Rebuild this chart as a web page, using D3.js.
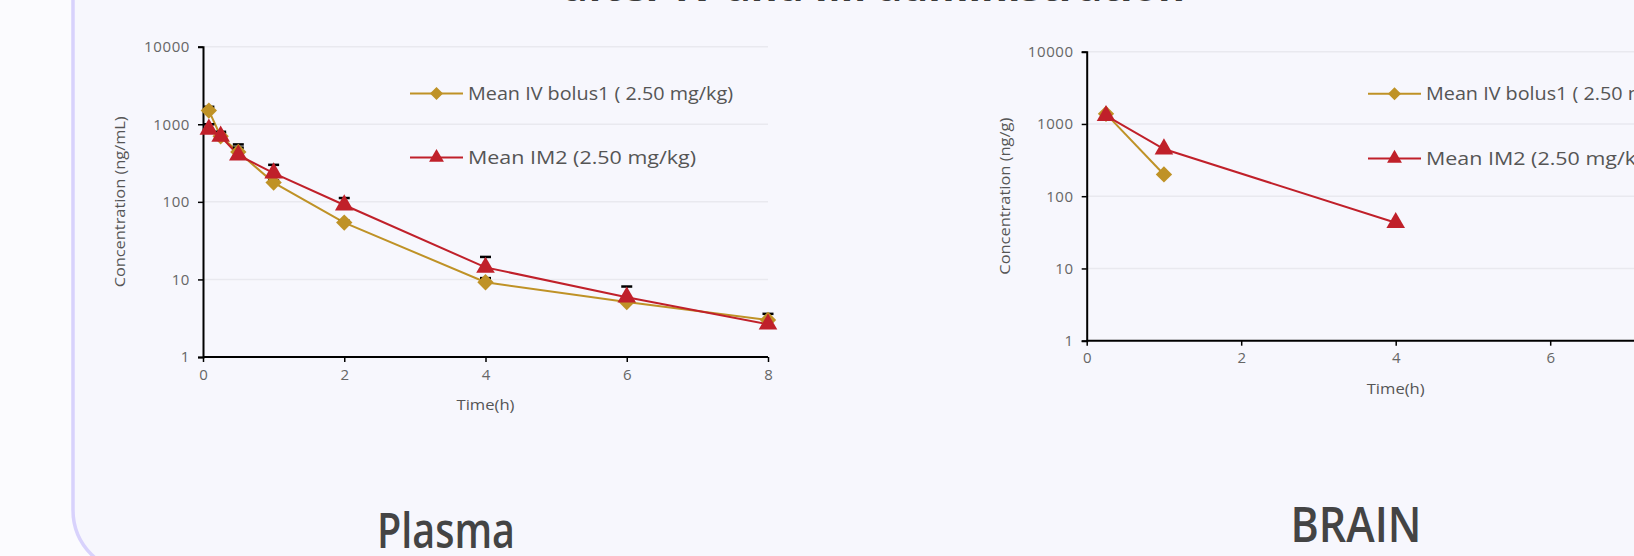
<!DOCTYPE html>
<html>
<head>
<meta charset="utf-8">
<script src="https://cdn.jsdelivr.net/npm/d3@7"></script>
<style>
  html, body { margin: 0; padding: 0; background: #fbfbfe; overflow: hidden; }
  svg { display: block; }
</style>
</head>
<body>
<svg id="chart" width="1634" height="556"></svg>
<script>
// plasma data (h, ng/mL)
var plasmaIvTime = [0.083, 0.25, 0.5, 1, 2, 4, 6, 8];
var plasmaIvMean = [1500, 700, 440, 177, 54, 9.2, 5.1, 3.0];
var plasmaIvErr = [1680, 760, 500, 190, 57, 10.4, 5.4, 3.6];
var plasmaImTime = [0.083, 0.25, 0.5, 1, 2, 4, 6, 8];
var plasmaImMean = [860, 700, 400, 235, 91, 14.3, 5.9, 2.65];
var plasmaImErr = [1000, 800, 550, 300, 112, 19.5, 8.1, 2.9];

// brain data (h, ng/g)
var brainIvTime = [0.25, 1];
var brainIvMean = [1380, 200];
var brainImTime = [0.25, 1, 4];
var brainImMean = [1300, 450, 43];

var xTicks = [0, 2, 4, 6, 8];
var yTicks = [1, 10, 100, 1000, 10000];
var legendLabels = ['Mean IV bolus1 ( 2.50 mg/kg)', 'Mean IM2 (2.50 mg/kg)'];
var legendWidths = [265, 228];

var gold = '#bf9226';
var red = '#c0202a';

var svg = d3.select('#chart');

// panel
svg.append('rect')
    .attr('x', 73)
    .attr('y', -80)
    .attr('width', 1700)
    .attr('height', 653)
    .attr('rx', 63)
    .attr('fill', '#f7f7fd')
    .attr('stroke', '#d8d2fc')
    .attr('stroke-width', 3.5);

// title, mostly cut off at the top
svg.append('text')
    .attr('x', 874)
    .attr('y', 1)
    .attr('text-anchor', 'middle')
    .attr('textLength', 622)
    .attr('lengthAdjust', 'spacingAndGlyphs')
    .style('font-family', 'Open Sans, sans-serif')
    .style('font-weight', 700)
    .style('font-size', '36px')
    .attr('fill', '#3a3a3a')
    .text('after IV and IM administration');

function drawChart(opt) {
    var x = d3.scaleLinear().domain([0, 8]).range(opt.xRange);
    var y = d3.scaleLog().domain([1, 10000]).range(opt.yRange);
    var g = svg.append('g');

    // grid
    g.selectAll('.grid')
        .data(yTicks.slice(1))
        .enter()
        .append('line')
        .attr('x1', opt.xRange[0])
        .attr('x2', opt.gridEnd)
        .attr('y1', function (d) { return y(d); })
        .attr('y2', function (d) { return y(d); })
        .attr('stroke', '#e9e9ef')
        .attr('stroke-width', 1.5);

    var yAxis = g.append('g')
        .attr('transform', `translate(${opt.xRange[0]},0)`)
        .call(d3.axisLeft(y).tickValues(yTicks).tickFormat(d3.format('d')).tickSizeOuter(0).tickSize(5).tickPadding(8));
    var xAxis = g.append('g')
        .attr('transform', `translate(0,${opt.yRange[0]})`)
        .call(d3.axisBottom(x).tickValues(xTicks).tickSizeOuter(0).tickSize(5).tickPadding(7));

    [xAxis, yAxis].forEach(function (a) {
        a.select('.domain').attr('stroke', '#000').attr('stroke-width', 2);
        a.selectAll('.tick line').attr('stroke', '#000').attr('stroke-width', 1.5);
        a.selectAll('.tick text')
            .attr('fill', '#666')
            .style('font-family', 'Open Sans, sans-serif')
            .style('font-size', '15px');
    });
    yAxis.selectAll('.tick text').style('letter-spacing', '0.6px');
    xAxis.select('.domain').attr('d', `M${opt.xRange[0]},0H${opt.gridEnd}`);

    // axis titles
    g.append('text')
        .attr('transform', `translate(${opt.yTitleX},${(opt.yRange[0] + opt.yRange[1]) / 2}) rotate(-90)`)
        .attr('text-anchor', 'middle')
        .attr('dy', '0.35em')
        .attr('textLength', opt.yTitleLen)
        .attr('lengthAdjust', 'spacingAndGlyphs')
        .style('font-family', 'Open Sans, sans-serif')
        .style('font-size', '14px')
        .attr('fill', '#555')
        .text(opt.yTitle);

    g.append('text')
        .attr('x', x(4))
        .attr('y', opt.yRange[0] + 48)
        .attr('text-anchor', 'middle')
        .attr('dy', '0.35em')
        .attr('textLength', 58)
        .attr('lengthAdjust', 'spacingAndGlyphs')
        .style('font-family', 'Open Sans, sans-serif')
        .style('font-size', '14px')
        .attr('fill', '#555')
        .text('Time(h)');

    var line = d3.line()
        .x(function (d) { return x(d[0]); })
        .y(function (d) { return y(d[1]); });

    opt.series.forEach(function (s) {
        var pts = d3.zip(s.time, s.mean);
        g.append('path')
            .datum(pts)
            .attr('fill', 'none')
            .attr('stroke', s.color)
            .attr('stroke-width', 2)
            .attr('d', line);
    });

    // error bars
    opt.series.forEach(function (s) {
        if (!s.err) return;
        var eb = g.selectAll(null)
            .data(d3.zip(s.time, s.mean, s.err))
            .enter()
            .append('g')
            .attr('stroke', '#000')
            .attr('stroke-width', 1.5);
        eb.append('line')
            .attr('x1', function (d) { return x(d[0]); })
            .attr('x2', function (d) { return x(d[0]); })
            .attr('y1', function (d) { return y(d[1]); })
            .attr('y2', function (d) { return y(d[2]); });
        eb.append('line')
            .attr('x1', function (d) { return x(d[0]) - 5.5; })
            .attr('x2', function (d) { return x(d[0]) + 5.5; })
            .attr('y1', function (d) { return y(d[2]); })
            .attr('y2', function (d) { return y(d[2]); })
            .attr('stroke-width', 2.5);
    });

    opt.series.forEach(function (s) {
        g.selectAll(null)
            .data(d3.zip(s.time, s.mean))
            .enter()
            .append('path')
            .attr('transform', function (d) { return `translate(${x(d[0])},${y(d[1])})`; })
            .attr('d', s.symbol)
            .attr('fill', s.color);
    });

    // legend
    opt.series.forEach(function (s, i) {
        var ly = opt.legendY[i];
        var lg = g.append('g').attr('transform', `translate(${opt.legendX},${ly})`);
        lg.append('line')
            .attr('x1', 0).attr('x2', 53)
            .attr('stroke', s.color).attr('stroke-width', 2);
        lg.append('path')
            .attr('transform', 'translate(26.5,0) scale(0.8)')
            .attr('d', s.symbol)
            .attr('fill', s.color);
        lg.append('text')
            .attr('x', 58)
            .attr('dy', '0.35em')
            .attr('textLength', legendWidths[i])
            .attr('lengthAdjust', 'spacingAndGlyphs')
            .style('font-family', 'Open Sans, sans-serif')
            .style('font-size', '18px')
            .attr('fill', '#555')
            .text(legendLabels[i]);
    });
}

var diamond = d3.symbol().type(d3.symbolDiamond2).size(170)();
var triangle = d3.symbol().type(d3.symbolTriangle).size(150)();

drawChart({
    xRange: [203, 768],
    yRange: [357, 46.7],
    gridEnd: 768,
    yTitle: 'Concentration (ng/mL)',
    yTitleX: 120,
    yTitleLen: 171,
    legendX: 410,
    legendY: [93.5, 157.5],
    series: [
        { time: plasmaIvTime, mean: plasmaIvMean, err: plasmaIvErr, color: gold, symbol: diamond },
        { time: plasmaImTime, mean: plasmaImMean, err: plasmaImErr, color: red, symbol: triangle }
    ]
});

drawChart({
    xRange: [1086.7, 1704.7],
    yRange: [340.7, 51.7],
    gridEnd: 1640,
    yTitle: 'Concentration (ng/g)',
    yTitleX: 1005,
    yTitleLen: 157,
    legendX: 1368,
    legendY: [93.8, 158.4],
    series: [
        { time: brainIvTime, mean: brainIvMean, color: gold, symbol: diamond },
        { time: brainImTime, mean: brainImMean, color: red, symbol: triangle }
    ]
});

// panel captions
svg.append('text')
    .attr('x', 446)
    .attr('y', 547.5)
    .attr('text-anchor', 'middle')
    .attr('textLength', 138)
    .attr('lengthAdjust', 'spacingAndGlyphs')
    .style('font-family', 'Open Sans, sans-serif')
    .style('font-weight', 600)
    .style('font-size', '48px')
    .attr('fill', '#444')
    .text('Plasma');

svg.append('text')
    .attr('x', 1356)
    .attr('y', 542)
    .attr('text-anchor', 'middle')
    .attr('textLength', 131)
    .attr('lengthAdjust', 'spacingAndGlyphs')
    .style('font-family', 'Open Sans, sans-serif')
    .style('font-weight', 600)
    .style('font-size', '48px')
    .attr('fill', '#444')
    .text('BRAIN');
</script>
</body>
</html>
